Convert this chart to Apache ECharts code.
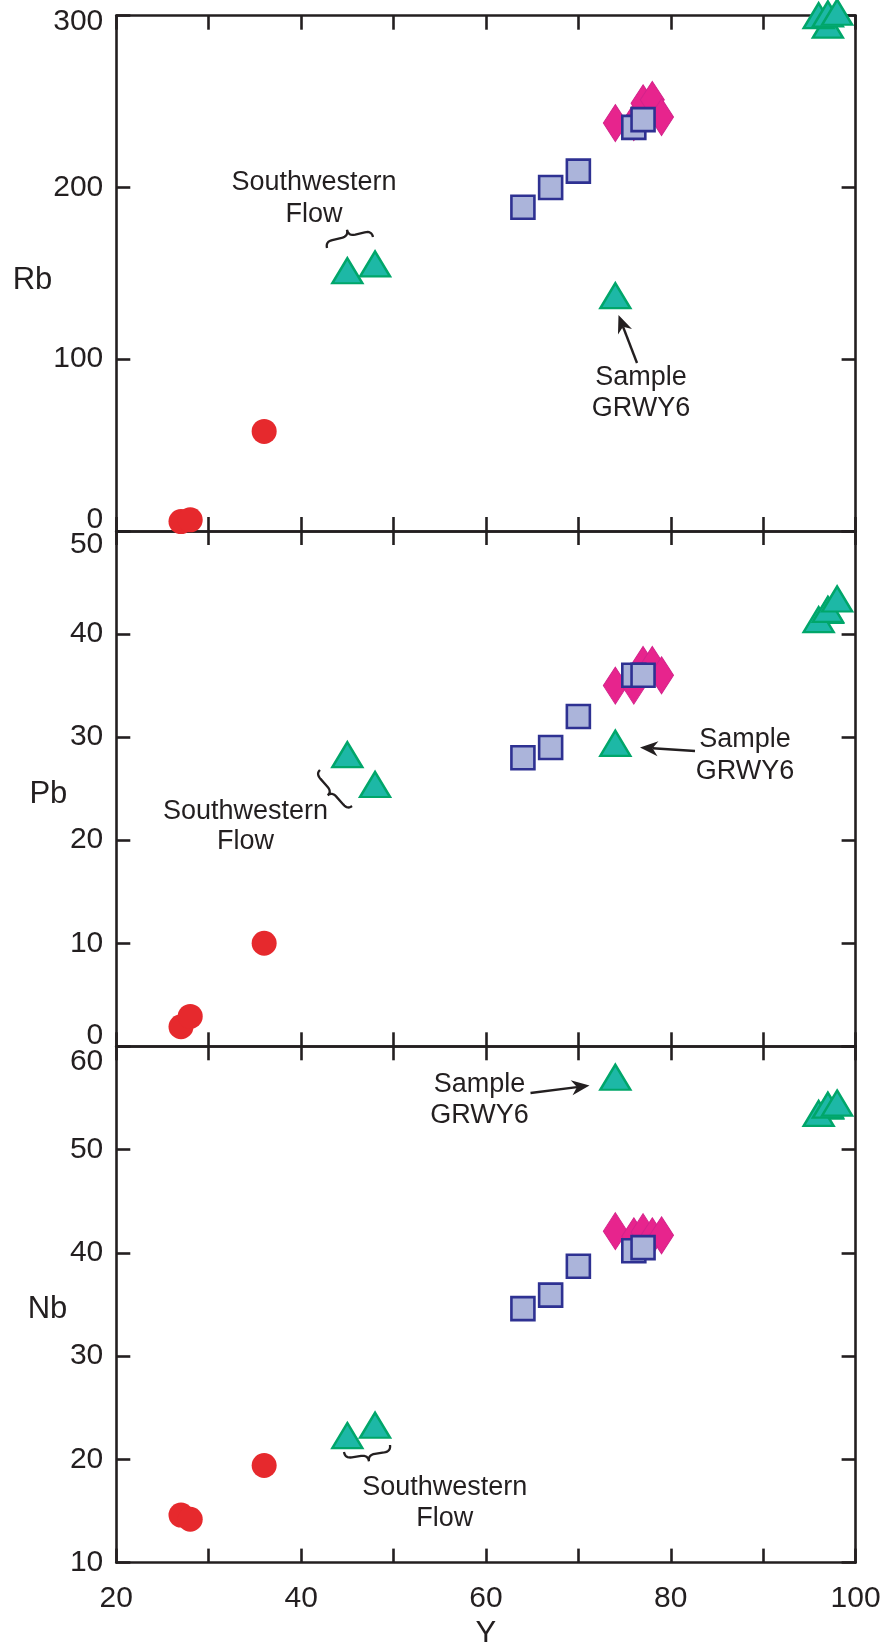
<!DOCTYPE html>
<html>
<head>
<meta charset="utf-8">
<script src="https://cdn.jsdelivr.net/npm/echarts@6/dist/echarts.min.js"></script>
<style>
html,body{margin:0;padding:0;background:#fff;}
#chart{width:885px;height:1642px;}
</style>
</head>
<body>
<div id="chart"></div>
<script>
// ---------------- data ----------------
const xName = 'Y';
const panelNames = ['Rb', 'Pb', 'Nb'];
const panelMin = [0, 0, 10];
const panelMax = [300, 50, 60];
const panelStep = [100, 10, 10];

// red circles
const redY  = [27, 28, 36];
const redRb = [5.5, 6.5, 58];
const redPb = [1.9, 2.9, 10];
const redNb = [14.6, 14.2, 19.4];

// blue squares
const sqY  = [64, 67, 70, 76, 77];
const sqRb = [188.5, 200, 209.5, 235, 239.5];
const sqPb = [28, 29, 32, 36, 36];
const sqNb = [34.6, 35.9, 38.7, 40.2, 40.5];

// magenta diamonds
const diaY  = [74, 76, 77, 78, 79];
const diaRb = [237.5, 238, 249, 251, 241];
const diaPb = [35, 35, 37, 37, 36];
const diaNb = [42.1, 41.6, 42.0, 41.6, 41.7];

// green triangles
const triY  = [45, 48, 74, 97, 96, 97, 98];
const triRb = [151.5, 155.5, 137, 294.5, 300, 301, 302];
const triPb = [28.3, 25.4, 29.4, 42.3, 41.4, 42.4, 43.4];
const triNb = [22.3, 23.3, 57, 54.2, 53.5, 54.3, 54.5];

// ---------------- style / layout ----------------
const INK = '#231f20';
const FONT = 'Liberation Sans, Arial, Helvetica, sans-serif';
const gridTops = [15.7, 531, 1046.3];
const gridHeights = [515.3, 515.3, 516.3];
const GRID_LEFT = 116.3, GRID_RIGHT = 29.4;
const LABEL_SIZE = 30;
const NAME_SIZE = 31;

const chart = echarts.init(document.getElementById('chart'), null, {renderer: 'canvas'});

const grids = gridTops.map((t, i) => ({
  left: GRID_LEFT, right: GRID_RIGHT, top: t, height: gridHeights[i],
  containLabel: false, outerBoundsMode: 'none'
}));

const axisLine = {show: true, onZero: false, lineStyle: {color: INK, width: 2.6}};
const axisTick = {show: true, inside: true, length: 14, lineStyle: {color: INK, width: 2.6}};

const xAxes = [];
const yAxes = [];
const maxPad = [12, 27, 30];
const minPad = [22, 22, 0];
const namePadTop = [14, 12, 10];
const nameGaps = [64, 49, 49];

for (let i = 0; i < 3; i++) {
  const isLast = i === 2;
  xAxes.push({
    gridIndex: i, type: 'value', min: 20, max: 100, interval: 10, position: 'bottom',
    axisLine, axisTick, splitLine: {show: false},
    name: isLast ? xName : '', nameLocation: 'middle', nameGap: 56, nameMoveOverlap: false,
    nameTextStyle: {fontFamily: FONT, fontSize: NAME_SIZE, color: INK},
    axisLabel: {
      show: isLast, margin: 21, fontFamily: FONT, fontSize: LABEL_SIZE, color: INK,
      formatter: v => (v % 20 === 0 ? String(v) : '')
    }
  });
  xAxes.push({
    gridIndex: i, type: 'value', min: 20, max: 100, interval: 10, position: 'top',
    axisLine, axisTick, splitLine: {show: false}, axisLabel: {show: false}
  });
  const mn = panelMin[i], mx = panelMax[i];
  yAxes.push({
    gridIndex: i, type: 'value', min: mn, max: mx, interval: panelStep[i], position: 'left',
    axisLine, axisTick, splitLine: {show: false},
    name: '{n|' + panelNames[i] + '}', nameLocation: 'middle', nameRotate: 0, nameGap: nameGaps[i],
    nameMoveOverlap: false,
    nameTextStyle: {
      fontFamily: FONT, fontSize: NAME_SIZE, color: INK,
      rich: {n: {fontFamily: FONT, fontSize: NAME_SIZE, color: INK, padding: [namePadTop[i], 0, 0, 0]}}
    },
    axisLabel: {
      show: true, margin: 13, fontFamily: FONT, fontSize: LABEL_SIZE, color: INK,
      formatter: v => {
        if (v === mx && maxPad[i]) return '{hi|' + v + '}';
        if (v === mn && minPad[i]) return '{lo|' + v + '}';
        return String(v);
      },
      rich: {
        hi: {fontFamily: FONT, fontSize: LABEL_SIZE, color: INK, padding: [maxPad[i], 0, 0, 0]},
        lo: {fontFamily: FONT, fontSize: LABEL_SIZE, color: INK, padding: [0, 0, minPad[i], 0]}
      }
    }
  });
  yAxes.push({
    gridIndex: i, type: 'value', min: mn, max: mx, interval: panelStep[i], position: 'right',
    axisLine, axisTick, splitLine: {show: false}, axisLabel: {show: false}
  });
}

const panelValues = [
  {red: redRb, sq: sqRb, dia: diaRb, tri: triRb},
  {red: redPb, sq: sqPb, dia: diaPb, tri: triPb},
  {red: redNb, sq: sqNb, dia: diaNb, tri: triNb}
];
const pair = (xs, ys) => xs.map((x, k) => [x, ys[k]]);

const series = [];
panelValues.forEach((pv, i) => {
  const base = {type: 'scatter', xAxisIndex: 2 * i, yAxisIndex: 2 * i, clip: false, silent: true,
                emphasis: {disabled: true}, animation: false};
  series.push(Object.assign({}, base, {
    name: 'circles', data: pair(redY, pv.red), symbol: 'circle', symbolSize: 25,
    itemStyle: {color: '#e6292d', opacity: 1}, z: 3
  }));
  series.push(Object.assign({}, base, {
    name: 'diamonds', data: pair(diaY, pv.dia), symbol: 'diamond', symbolSize: [24, 37],
    itemStyle: {color: '#e7248d', borderColor: '#d3238b', borderWidth: 1, opacity: 1}, z: 3
  }));
  series.push(Object.assign({}, base, {
    name: 'squares', data: pair(sqY, pv.sq), symbol: 'rect', symbolSize: 23,
    itemStyle: {color: '#abb4da', borderColor: '#2e3192', borderWidth: 2.6, opacity: 1}, z: 4
  }));
  series.push(Object.assign({}, base, {
    name: 'triangles', data: pair(triY, pv.tri), symbol: 'triangle', symbolSize: [30, 25],
    itemStyle: {color: '#1db8a6', borderColor: '#00a66a', borderWidth: 2.4, opacity: 1}, z: 5
  }));
});

// ---------------- annotations ----------------
function textEl(x, y, s) {
  return {type: 'text', x: x, y: y, z: 20,
    style: {text: s, fill: INK, font: '27px ' + FONT, textAlign: 'center', textVerticalAlign: 'middle'}};
}
function arrowEls(x1, y1, x2, y2) {
  const dx = x2 - x1, dy = y2 - y1, L = Math.hypot(dx, dy);
  const ux = dx / L, uy = dy / L, nx = -uy, ny = ux;
  const hl = 18, hw = 7.5;
  const bx = x2 - ux * hl, by = y2 - uy * hl;
  const nxp = x2 - ux * hl * 0.7, nyp = y2 - uy * hl * 0.7;
  return [
    {type: 'line', z: 20, shape: {x1: x1, y1: y1, x2: nxp, y2: nyp}, style: {stroke: INK, lineWidth: 2.4}},
    {type: 'polygon', z: 20, shape: {points: [[x2, y2], [bx + nx * hw, by + ny * hw], [nxp, nyp], [bx - nx * hw, by - ny * hw]]},
     style: {fill: INK, stroke: null}}
  ];
}
// curly brace drawn as a sampled polyline
function braceEl(x1, y1, x2, y2, h) {
  const dx = x2 - x1, dy = y2 - y1, L = Math.hypot(dx, dy);
  const ux = dx / L, uy = dy / L, nx = -uy, ny = ux;
  const P = (a, b) => [x1 + ux * a + nx * b, y1 + uy * a + ny * b];
  const w = Math.min(L * 0.18, 7);
  const m = h * 0.5;
  const pts = [];
  const quad = (p0, p1, p2) => {
    for (let t = 0; t <= 1.0001; t += 0.125) {
      const a = (1 - t) * (1 - t), b = 2 * (1 - t) * t, c = t * t;
      pts.push([a * p0[0] + b * p1[0] + c * p2[0], a * p0[1] + b * p1[1] + c * p2[1]]);
    }
  };
  quad(P(0, 0), P(0, m), P(w, m));
  quad(P(L / 2 - w, m), P(L / 2, m), P(L / 2, h));
  quad(P(L / 2, h), P(L / 2, m), P(L / 2 + w, m));
  quad(P(L - w, m), P(L, m), P(L, 0));
  return {type: 'polyline', z: 20, shape: {points: pts}, style: {stroke: INK, lineWidth: 2.3, fill: null}};
}

const graphic = [
  // Rb panel
  textEl(314, 183, 'Southwestern'), textEl(314, 215, 'Flow'),
  braceEl(327, 248, 373, 237, -13),
  textEl(641, 378, 'Sample'), textEl(641, 408.5, 'GRWY6'),
  ...arrowEls(637, 363, 618.5, 315),
  // Pb panel
  textEl(245.5, 811.5, 'Southwestern'), textEl(245.5, 842, 'Flow'),
  braceEl(320, 770, 352, 806, 11),
  textEl(745, 740, 'Sample'), textEl(745, 771.5, 'GRWY6'),
  ...arrowEls(695, 751, 640, 747.5),
  // Nb panel
  textEl(479.5, 1084.5, 'Sample'), textEl(479.5, 1115.5, 'GRWY6'),
  ...arrowEls(530.5, 1093, 589.5, 1085.5),
  textEl(444.7, 1488, 'Southwestern'), textEl(444.7, 1519, 'Flow'),
  braceEl(344, 1452, 390, 1445, 13)
];

chart.setOption({
  backgroundColor: '#ffffff',
  animation: false,
  grid: grids,
  xAxis: xAxes,
  yAxis: yAxes,
  series: series,
  graphic: graphic
});
</script>
</body>
</html>
